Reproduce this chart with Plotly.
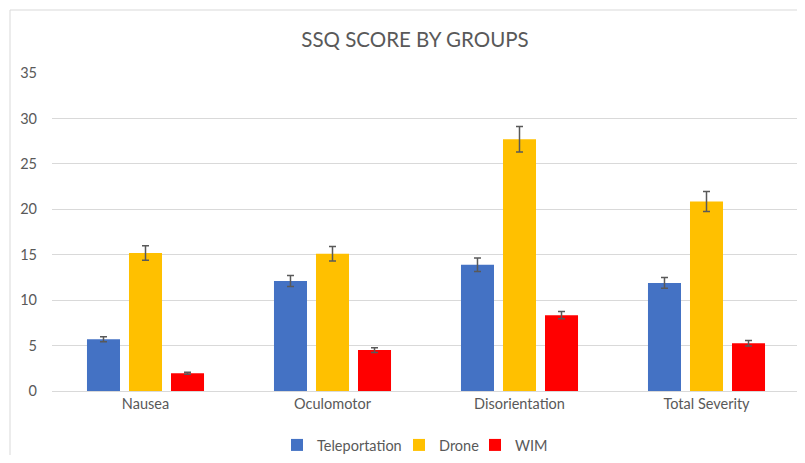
import plotly.graph_objects as go

categories = ["Nausea", "Oculomotor", "Disorientation", "Total Severity"]
series_names = ["Teleportation", "Drone", "WIM"]
teleportation = [5.7, 12.1, 13.9, 11.9]
teleportation_err = [0.28, 0.6, 0.75, 0.6]
drone = [15.2, 15.1, 27.7, 20.85]
drone_err = [0.8, 0.8, 1.4, 1.1]
wim = [1.95, 4.5, 8.35, 5.25]
wim_err = [0.1, 0.25, 0.4, 0.3]
y_ticks = [0, 5, 10, 15, 20, 25, 30, 35]

colors = ["#4472C4", "#FFC000", "#FF0000"]
values = [teleportation, drone, wim]
errors = [teleportation_err, drone_err, wim_err]

# The page body has an 8px margin, so the figure is 16px smaller than the
# window and every layout pixel below is the reference pixel minus 8.
W, H = 789, 447
L, T, B = 44, 65, 64
PW, PH = W - L, H - T - B  # 745 x 318

legend_ids = ["legend", "legend2", "legend3"]
legend_text_px = [309, 431, 507]  # where each legend label should start

fig = go.Figure()
for name, vals, errs, col, lg in zip(series_names, values, errors, colors, legend_ids):
    fig.add_trace(go.Bar(
        x=categories, y=vals, name=name, legend=lg,
        marker=dict(color=col, line=dict(width=0)),
        error_y=dict(type="data", array=errs, visible=True,
                     color="#595959", thickness=1.5, width=3.5),
    ))

font_family = "Lato, 'Open Sans', sans-serif"
legend_common = dict(orientation="h", xanchor="left", yanchor="middle",
                     y=(383 - 437) / PH, itemwidth=30,
                     font=dict(family=font_family, size=14.5, color="#595959"),
                     bgcolor="rgba(0,0,0,0)")
legends = {}
for lg, tx in zip(legend_ids, legend_text_px):
    legends[lg] = dict(legend_common, x=(tx - 40 - L) / PW)

fig.update_layout(
    width=W, height=H,
    margin=dict(l=L, r=0, t=T, b=B, autoexpand=False),
    paper_bgcolor="white", plot_bgcolor="white",
    barmode="group", bargap=0.326, bargroupgap=0.214,
    title=dict(text="SSQ SCORE BY GROUPS", xref="paper", x=(407 - L) / PW,
               xanchor="center", y=1 - 32 / H, yanchor="middle",
               yref="container",
               font=dict(family=font_family, size=20.5, color="#595959")),
    font=dict(family=font_family, size=14.5, color="#595959"),
    showlegend=True,
    xaxis=dict(showgrid=False, showline=True, linecolor="#d9d9d9",
               linewidth=1, ticks="", automargin=False,
               range=[-0.5, -0.5 + PW / 187],
               tickfont=dict(size=14.5, color="#595959")),
    yaxis=dict(range=[0, 35], tickvals=y_ticks, showgrid=True,
               gridcolor="#d9d9d9", gridwidth=1, zeroline=False,
               showline=False, ticks="", ticklabelstandoff=14,
               automargin=False,
               tickfont=dict(size=14.5, color="#595959")),
    shapes=[dict(type="rect", xref="paper", yref="paper",
                 x0=(2 - L) / PW, x1=(W + 20 - L) / PW,
                 y0=(383 - H - 20) / PH, y1=(383 - 2) / PH,
                 line=dict(color="#d9d9d9", width=1), layer="below")],
    **legends,
)

fig.write_html("out.html")
